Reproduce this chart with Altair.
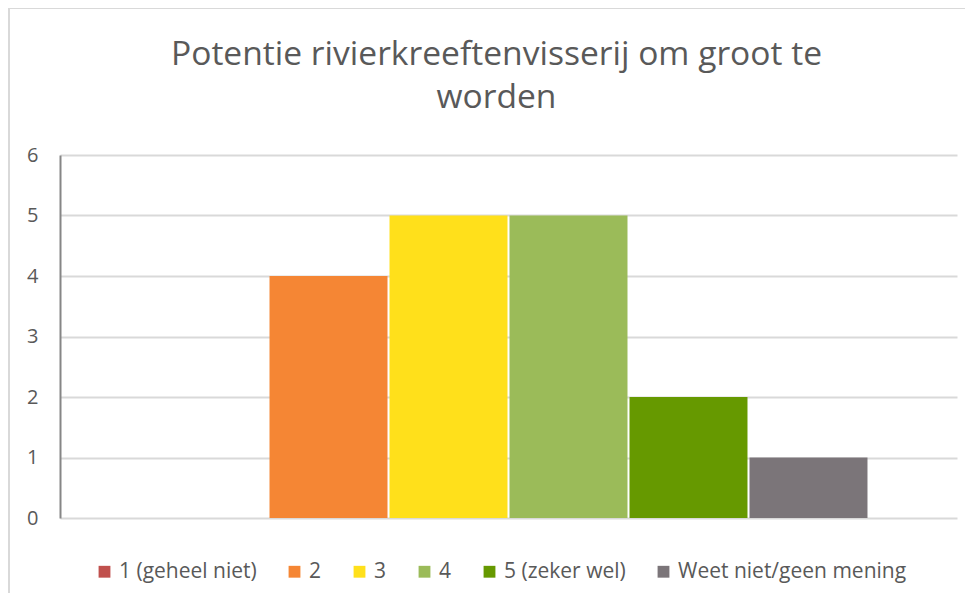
import altair as alt
import pandas as pd

categories = ["1 (geheel niet)", "2", "3", "4", "5 (zeker wel)", "Weet niet/geen mening"]
values = [0, 4, 5, 5, 2, 1]
colors = ["#C0504D", "#F58634", "#FFE01B", "#9BBB59", "#669900", "#7B7579"]
title_lines = ["Potentie rivierkreeftenvisserij om groot te", "worden"]

df = pd.DataFrame({"cat": categories, "val": values})

FONT = "Open Sans"
W, H = 897, 363

border = alt.Chart(pd.DataFrame({"a": [0]})).mark_rect(
    fillOpacity=0, stroke="#D9D9D9", strokeWidth=2, clip=False
).encode(
    x=alt.value(-51), x2=alt.value(1000), y=alt.value(-147), y2=alt.value(500)
)

bars = alt.Chart(df).mark_bar(clip=False).encode(
    x=alt.X("cat:N", sort=categories, axis=None,
            scale=alt.Scale(paddingInner=0.0167, paddingOuter=0.746)),
    y=alt.Y("val:Q", scale=alt.Scale(domain=[0, 6]),
            axis=alt.Axis(values=[0, 1, 2, 3, 4, 5, 6], title=None, ticks=False,
                          labelPadding=22, labelFont=FONT, labelFontSize=20,
                          labelColor="#595959", domainColor="#868686", domainWidth=2,
                          gridColor="#D9D9D9", gridWidth=2)),
    color=alt.Color("cat:N", sort=categories,
                    scale=alt.Scale(domain=categories, range=colors),
                    legend=alt.Legend(title=None, orient="none", legendX=34, legendY=406,
                                      direction="horizontal", columns=6,
                                      symbolType="square", symbolSize=140,
                                      symbolStrokeWidth=0, symbolOpacity=1,
                                      labelFont=FONT, labelFontSize=21, labelLimit=400,
                                      labelColor="#595959", columnPadding=27,
                                      labelOffset=4)),
)

chart = alt.layer(border, bars).properties(
    width=W, height=H,
    autosize=alt.AutoSizeParams(type="none"),
    padding={"left": 52, "top": 147, "right": 8, "bottom": 430 - 363 + 8},
    title=alt.TitleParams(text=title_lines, font=FONT, fontSize=33.6, fontWeight="normal",
                          color="#595959", lineHeight=43, offset=40, dy=148, dx=-12,
                          anchor="middle"),
).configure(background="white").configure_view(stroke=None)

chart.save("out.html", embed_options={"renderer": "svg", "actions": False})
